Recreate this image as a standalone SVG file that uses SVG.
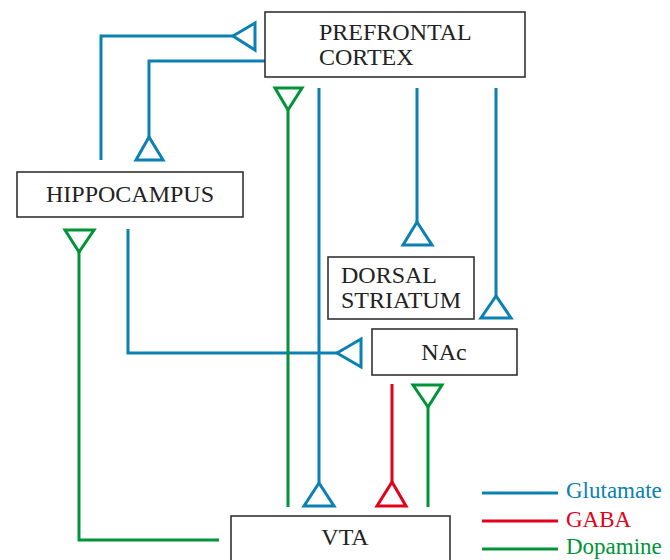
<svg xmlns="http://www.w3.org/2000/svg" width="670" height="560" viewBox="0 0 670 560">
<style>
.box{fill:#fff;stroke:#333;stroke-width:1.6}
.t{font-family:"Liberation Serif","Times New Roman",serif;font-size:24px;fill:#222}
.lg{font-family:"Liberation Serif","Times New Roman",serif;font-size:23px}
.glu{stroke:#0a80b3;stroke-width:3;fill:none}
.gaba{stroke:#e3001b;stroke-width:3;fill:none}
.da{stroke:#009438;stroke-width:3;fill:none}
.hg{fill:#fff;stroke:#0a80b3;stroke-width:3;stroke-linejoin:miter}
.hr{fill:#fff;stroke:#e3001b;stroke-width:3}
.hd{fill:#fff;stroke:#009438;stroke-width:3}
</style>
<rect width="670" height="560" fill="#fff"/>
<g id="connectors">
  <polyline class="glu" points="128,229 128,353 337,353"/>
  <polygon class="hg" points="337,353 361,339 361,367"/>
  <polyline class="glu" points="101,160 101,36 233,36"/>
  <polygon class="hg" points="233,36 255,23 255,50"/>
  <polyline class="glu" points="265,61 149,61 149,137"/>
  <polygon class="hg" points="149,137 136,160 163,160"/>
  <line class="da" x1="288" y1="110" x2="288" y2="507"/>
  <polygon class="hd" points="288,110 275,88 302,88"/>
  <line class="glu" x1="319" y1="88" x2="319" y2="483"/>
  <polygon class="hg" points="319,483 304,506 334,506"/>
  <line class="glu" x1="417" y1="88" x2="417" y2="222"/>
  <polygon class="hg" points="417,222 403,245 432,245"/>
  <line class="glu" x1="496" y1="88" x2="496" y2="296"/>
  <polygon class="hg" points="496,296 481,318 511,318"/>
  <line class="gaba" x1="392" y1="384" x2="392" y2="482"/>
  <polygon class="hr" points="392,482 377,506 406,506"/>
  <line class="da" x1="428" y1="407" x2="428" y2="507"/>
  <polygon class="hd" points="428,407 413,385 442,385"/>
  <polyline class="da" points="219,540 79,540 79,252"/>
  <polygon class="hd" points="79,252 65,230 94,230"/>
</g>
<g id="pfc">
  <rect class="box" x="265" y="12" width="260" height="65"/>
  <text class="t" x="319" y="40">PREFRONTAL</text>
  <text class="t" x="319" y="65">CORTEX</text>
</g>
<g id="hippocampus">
  <rect class="box" x="17" y="172" width="226" height="45"/>
  <text class="t" x="130" y="202" text-anchor="middle">HIPPOCAMPUS</text>
</g>
<g id="dorsal-striatum">
  <rect class="box" x="328" y="257" width="146" height="62"/>
  <text class="t" x="341" y="283">DORSAL</text>
  <text class="t" x="341" y="308">STRIATUM</text>
</g>
<g id="nac">
  <rect class="box" x="372" y="329" width="145" height="46"/>
  <text class="t" x="444" y="360" text-anchor="middle">NAc</text>
</g>
<g id="vta">
  <rect class="box" x="231" y="516" width="219" height="60"/>
  <text class="t" x="345" y="545" text-anchor="middle">VTA</text>
</g>
<g id="legend">
  <line class="glu" x1="482" y1="493" x2="558" y2="493"/>
  <text class="lg" x="566" y="498" fill="#0a80b3">Glutamate</text>
  <line class="gaba" x1="482" y1="521" x2="558" y2="521"/>
  <text class="lg" x="566" y="527" fill="#e3001b">GABA</text>
  <line class="da" x1="482" y1="549" x2="558" y2="549"/>
  <text class="lg" x="566" y="554" fill="#009438">Dopamine</text>
</g>
</svg>
